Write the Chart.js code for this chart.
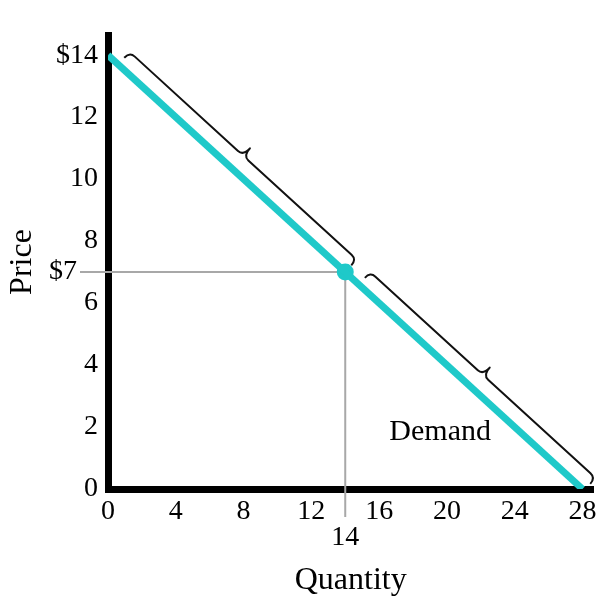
<!DOCTYPE html>
<html>
<head>
<meta charset="utf-8">
<script src="https://cdn.jsdelivr.net/npm/chart.js@4/dist/chart.umd.min.js"></script>
<style>
  html, body { margin: 0; padding: 0; background: #fff; }
  #wrap { width: 602px; height: 606px; }
</style>
</head>
<body>
<div id="wrap"><canvas id="demandChart"></canvas></div>
<script>
// donnees
const quantity = [0, 28];
const price = [14, 0];
const eqQuantity = [14];
const eqPrice = [7];

const xTicks = [0, 4, 8, 12, 14, 16, 20, 24, 28];
const yTicks = [0, 2, 4, 6, 7, 8, 10, 12, 14];
const yTickLabels = ['0', '2', '4', '6', '$7   ', '8', '10', '12', '$14'];

// accolades le long de la courbe (en quantite)
const braceFrom = [0.6, 14.8];
const braceTo = [14.0, 28.1];

const demandLabel = 'Demand';
const demandLabelQ = [19.6];
const demandLabelP = [1.82];

const serif = "'Liberation Serif', 'DejaVu Serif', serif";
const cyan = '#1fc9c9';
const guideGray = '#a8a8a8';

// accolade dessinee entre deux points de la droite
function drawBrace(ctx, p1, p2) {
    const dx = p2.x - p1.x, dy = p2.y - p1.y;
    const len = Math.sqrt(dx * dx + dy * dy);
    const u = { x: dx / len, y: dy / len };
    const n = { x: u.y, y: -u.x }; // vers le haut a droite
    const P = (s, t) => ({ x: p1.x + u.x * s + n.x * t, y: p1.y + u.y * s + n.y * t });
    const t0 = 9, ta = 17, tip = 27, r = 7, h = len / 2;
    const pts = [
        ['M', P(0, t0)],
        ['Q', P(0, ta), P(r, ta)],
        ['L', P(h - r, ta)],
        ['Q', P(h, ta), P(h, tip)],
        ['Q', P(h, ta), P(h + r, ta)],
        ['L', P(len - r, ta)],
        ['Q', P(len, ta), P(len, t0)]
    ];
    ctx.beginPath();
    pts.forEach(p => {
        if (p[0] === 'M') ctx.moveTo(p[1].x, p[1].y);
        else if (p[0] === 'L') ctx.lineTo(p[1].x, p[1].y);
        else ctx.quadraticCurveTo(p[1].x, p[1].y, p[2].x, p[2].y);
    });
    ctx.stroke();
}

const annotations = {
    id: 'annotations',
    beforeDatasetsDraw(chart) {
        const { ctx, scales: { x, y } } = chart;
        const px = x.getPixelForValue(eqQuantity[0]);
        const py = y.getPixelForValue(eqPrice[0]);
        ctx.save();
        ctx.strokeStyle = guideGray;
        ctx.lineWidth = 2;
        ctx.beginPath();
        ctx.moveTo(x.left - 28, py);
        ctx.lineTo(px, py);
        ctx.moveTo(px, py);
        ctx.lineTo(px, y.bottom + 28);
        ctx.stroke();
        ctx.restore();
    },
    afterDatasetsDraw(chart) {
        const { ctx, scales: { x, y } } = chart;
        const onLine = q => {
            const p = price[0] + (price[1] - price[0]) * (q - quantity[0]) / (quantity[1] - quantity[0]);
            return { x: x.getPixelForValue(q), y: y.getPixelForValue(p) };
        };
        ctx.save();
        ctx.strokeStyle = '#111';
        ctx.lineWidth = 2;
        ctx.lineJoin = 'round';
        for (let i = 0; i < braceFrom.length; i++) {
            drawBrace(ctx, onLine(braceFrom[i]), onLine(braceTo[i]));
        }
        ctx.fillStyle = '#000';
        ctx.font = '30px ' + serif;
        ctx.textAlign = 'center';
        ctx.textBaseline = 'middle';
        ctx.fillText(demandLabel, x.getPixelForValue(demandLabelQ[0]), y.getPixelForValue(demandLabelP[0]));
        ctx.restore();
    }
};

const tickFont = { family: serif, size: 28, lineHeight: 0.95 };
const titleFont = { family: serif, size: 32 };

new Chart(document.getElementById('demandChart'), {
    type: 'scatter',
    data: {
        datasets: [
            {
                data: quantity.map((q, i) => ({ x: q, y: price[i] })),
                showLine: true,
                borderColor: cyan,
                borderWidth: 7,
                pointRadius: 0,
                fill: false
            },
            {
                data: eqQuantity.map((q, i) => ({ x: q, y: eqPrice[i] })),
                pointRadius: 8.5,
                pointBackgroundColor: cyan,
                pointBorderWidth: 0
            }
        ]
    },
    options: {
        responsive: true,
        maintainAspectRatio: false,
        animation: false,
        layout: { padding: { top: 35, right: 8, left: 0, bottom: 0 } },
        plugins: { legend: { display: false }, tooltip: { enabled: false } },
        scales: {
            x: {
                type: 'linear',
                min: 0,
                max: 28.65,
                afterBuildTicks: s => { s.ticks = xTicks.map(v => ({ value: v })); },
                afterFit: s => { s.height = 117; s.paddingRight = 0; s.paddingLeft = 0; },
                grid: { display: false, drawTicks: false },
                border: { color: '#000', width: 7 },
                ticks: {
                    font: tickFont,
                    color: '#000',
                    padding: 9,
                    maxRotation: 0,
                    autoSkip: false,
                    callback: v => v === 14 ? ['', '14'] : String(v)
                },
                title: { display: true, text: 'Quantity', font: titleFont, color: '#000', padding: { top: 0, bottom: 6 } }
            },
            y: {
                type: 'linear',
                min: 0,
                max: 14.65,
                afterBuildTicks: s => { s.ticks = yTicks.map(v => ({ value: v })); },
                afterFit: s => { s.width = 108; s.paddingTop = 0; s.paddingBottom = 0; },
                grid: { display: false, drawTicks: false },
                border: { color: '#000', width: 7 },
                ticks: {
                    font: tickFont,
                    color: '#000',
                    padding: 10,
                    autoSkip: false,
                    callback: v => yTickLabels[yTicks.indexOf(v)]
                },
                title: { display: true, text: 'Price', font: titleFont, color: '#000', padding: { top: 3, bottom: 0 } }
            }
        }
    },
    plugins: [annotations]
});
</script>
</body>
</html>
